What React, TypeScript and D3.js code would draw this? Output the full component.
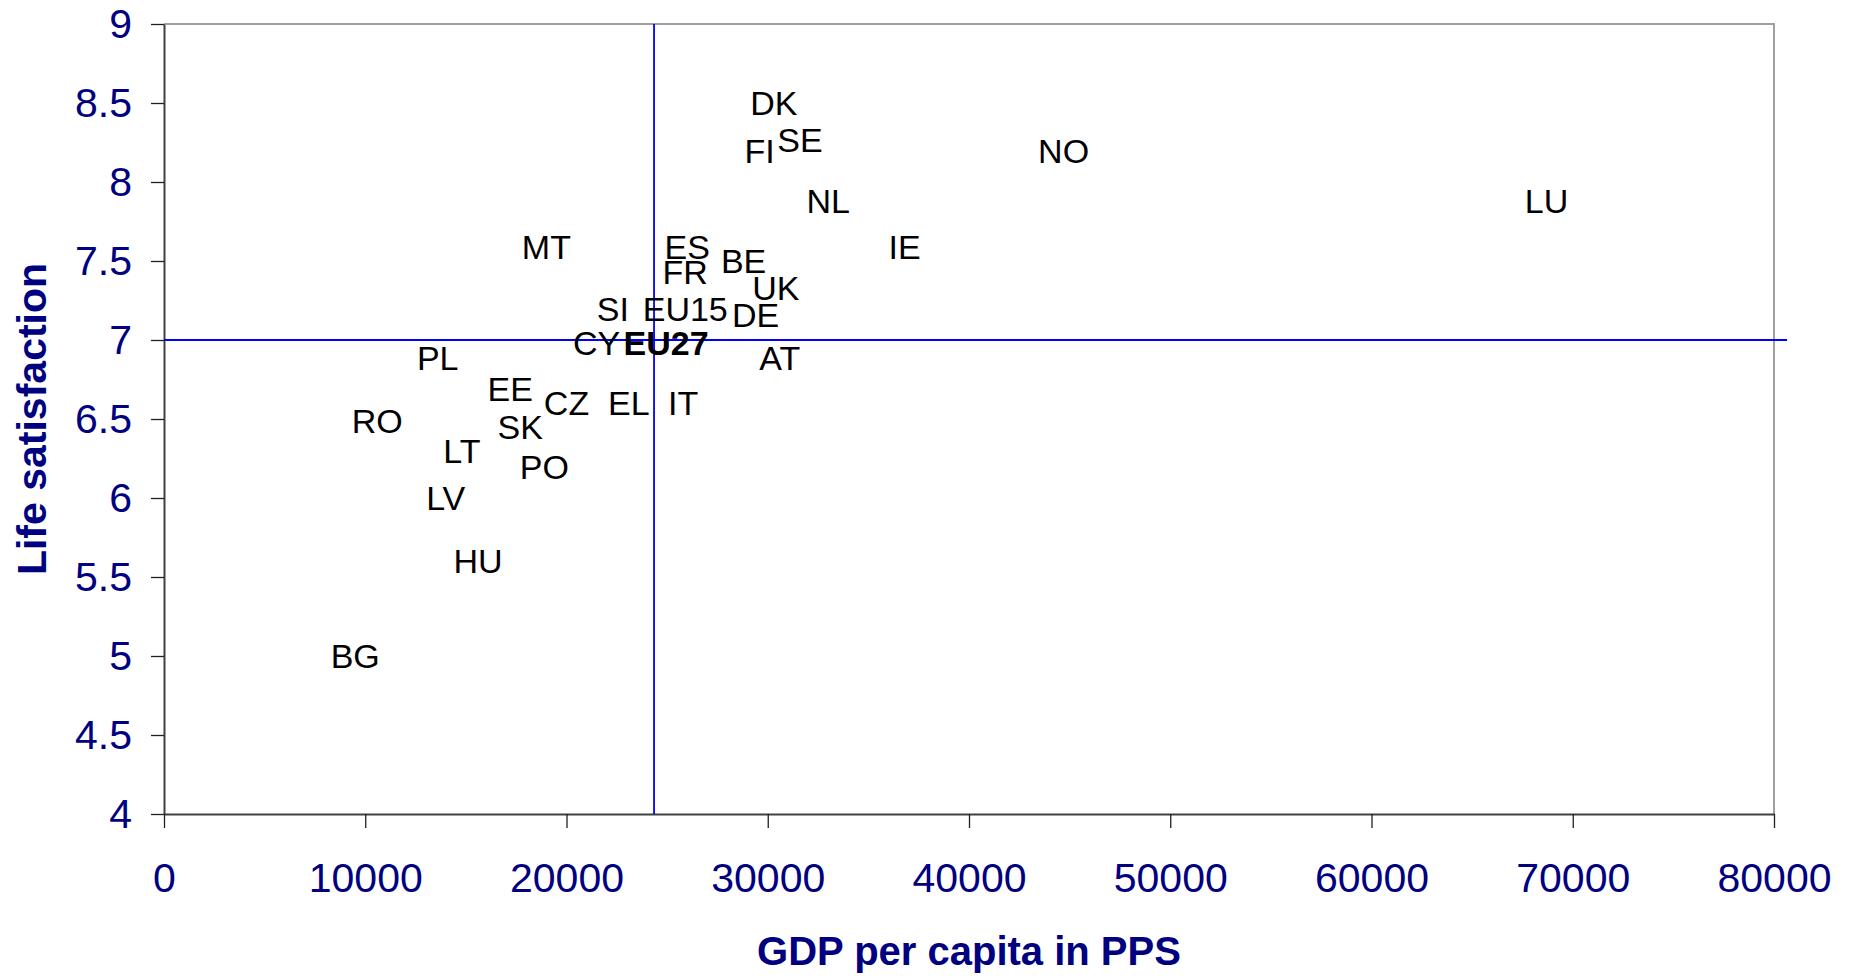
import React, { useEffect, useRef } from "react";
import * as d3 from "d3";

const countries = ["DK","SE","FI","NO","NL","LU","MT","ES","IE","BE","FR","UK","SI","EU15","DE","CY","EU27","PL","AT","EE","CZ","EL","IT","RO","SK","LT","PO","LV","HU","BG"];
const gdp = [30300,31600,29600,44700,33000,68700,19000,26000,36800,28800,25900,30400,22300,25900,29400,21500,24950,13600,30600,17200,20000,23100,25800,10600,17700,14800,18900,14000,15600,9500];
const lifeSat = [8.5,8.27,8.2,8.2,7.88,7.88,7.59,7.59,7.59,7.5,7.43,7.33,7.2,7.2,7.16,6.98,6.98,6.89,6.89,6.69,6.6,6.6,6.6,6.49,6.45,6.3,6.2,6.0,5.6,5.0];
const boldLabels = ["EU27"];

const xTicks = [0,10000,20000,30000,40000,50000,60000,70000,80000];
const yTicks = [4,4.5,5,5.5,6,6.5,7,7.5,8,8.5,9];

const refGdp = 24350;
const refLife = 7.0;
const refLineGdpEnd = 80650;

const xTitle = "GDP per capita in PPS";
const yTitle = "Life satisfaction";

const W = 1849, H = 976;
const M = { left: 164, right: 1774, top: 24, bottom: 814 };
const FONT = "'Liberation Sans', Arial, sans-serif";
const NAVY = "#000080";

export default function App() {
  const ref = useRef<SVGSVGElement>(null);
  useEffect(() => {
    const svg = d3.select(ref.current);
    svg.selectAll("*").remove();
    const x = d3.scaleLinear().domain([0, 80000]).range([M.left, M.right]);
    const y = d3.scaleLinear().domain([4, 9]).range([M.bottom, M.top]);

    svg.append("path")
      .attr("d", `M${M.left},${M.top}H${M.right}V${M.bottom}`)
      .attr("fill", "none").attr("stroke", "#a0a0a0").attr("stroke-width", 2);

    const yAxis = svg.append("g").attr("transform", `translate(${M.left},0)`)
      .call(d3.axisLeft(y).tickValues(yTicks).tickFormat((d: any) => String(d)).tickSize(13).tickPadding(19).tickSizeOuter(0));
    const xAxis = svg.append("g").attr("transform", `translate(0,${M.bottom})`)
      .call(d3.axisBottom(x).tickValues(xTicks).tickFormat(d3.format("d") as any).tickSize(14).tickPadding(35).tickSizeOuter(0));
    [yAxis, xAxis].forEach(a => {
      a.select(".domain").attr("stroke", "#404040").attr("stroke-width", 2);
      a.selectAll(".tick line").attr("stroke", "#202020").attr("stroke-width", 1.3);
      a.selectAll(".tick text").attr("fill", NAVY).attr("font-size", 41).attr("font-family", FONT);
    });

    svg.append("line")
      .attr("x1", x(refGdp)).attr("x2", x(refGdp)).attr("y1", y(9)).attr("y2", y(4))
      .attr("stroke", "#0000ff").attr("stroke-width", 1.8);
    svg.append("line")
      .attr("x1", x(0)).attr("x2", x(refLineGdpEnd)).attr("y1", y(refLife)).attr("y2", y(refLife))
      .attr("stroke", "#0000ff").attr("stroke-width", 1.8);

    svg.append("g").selectAll("text").data(countries).join("text")
      .attr("x", (_d, i) => x(gdp[i])).attr("y", (_d, i) => y(lifeSat[i]))
      .attr("dy", "0.36em").attr("text-anchor", "middle")
      .attr("font-family", FONT).attr("font-size", 34)
      .attr("font-weight", d => boldLabels.includes(d) ? "bold" : "normal")
      .attr("fill", "#000").text(d => d);

    svg.append("text").attr("x", (M.left + M.right) / 2).attr("y", 965)
      .attr("text-anchor", "middle").attr("font-family", FONT).attr("font-weight", "bold")
      .attr("font-size", 40).attr("fill", NAVY).text(xTitle);
    svg.append("text").attr("transform", `translate(46,${(M.top + M.bottom) / 2}) rotate(-90)`)
      .attr("text-anchor", "middle").attr("font-family", FONT).attr("font-weight", "bold")
      .attr("font-size", 41).attr("fill", NAVY).text(yTitle);
  }, []);
  return (
    <svg ref={ref} width={W} height={H} style={{ position: "absolute", left: 0, top: 0, background: "#fff" }} />
  );
}
